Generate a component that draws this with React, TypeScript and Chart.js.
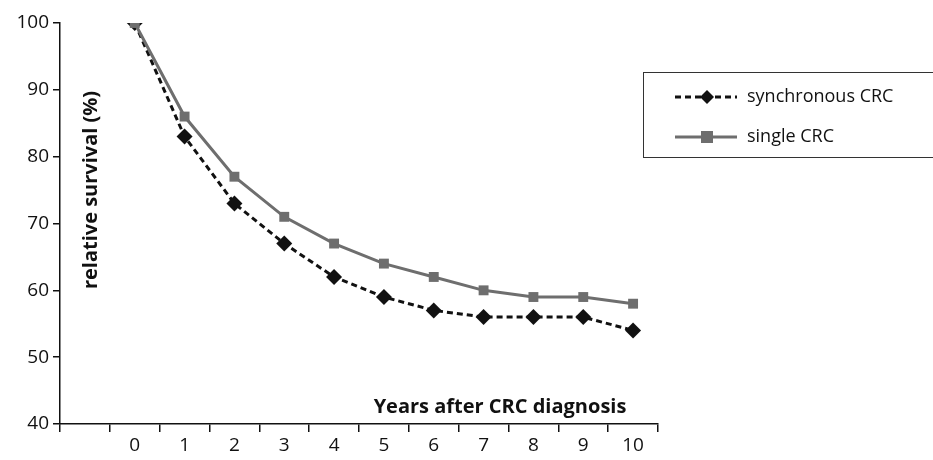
import React, { useEffect, useRef } from "react";
import { Chart, registerables } from "chart.js";

Chart.register(...registerables);

const categories = ["", "0", "1", "2", "3", "4", "5", "6", "7", "8", "9", "10"];
const synchronousCRC = [null, 100, 83, 73, 67, 62, 59, 57, 56, 56, 56, 54];
const singleCRC = [null, 100, 86, 77, 71, 67, 64, 62, 60, 59, 59, 58];
const yTicks = [40, 50, 60, 70, 80, 90, 100];
const seriesNames = ["synchronous CRC", "single CRC"];
const xTitle = "Years after CRC diagnosis";
const yTitle = "relative survival (%)";

const FONT = "'Open Sans', 'DejaVu Sans', sans-serif";

const overlayPlugin = {
  id: "overlay",
  afterDraw(chart: any) {
    const ctx = chart.ctx;
    const area = chart.chartArea;
    ctx.save();
    // axis titles
    ctx.fillStyle = "#111";
    ctx.font = `bold 20px ${FONT}`;
    ctx.textAlign = "center";
    ctx.textBaseline = "middle";
    ctx.fillText(xTitle, 500, area.bottom - 17);
    ctx.save();
    ctx.translate(area.left + 31, 190);
    ctx.rotate(-Math.PI / 2);
    ctx.fillText(yTitle, 0, 0);
    ctx.restore();

    // legend box
    const bx = 643, by = 72, bw = 300, bh = 85;
    ctx.strokeStyle = "#333";
    ctx.lineWidth = 1;
    ctx.strokeRect(bx + 0.5, by + 0.5, bw, bh);

    const rows = [
      { y: 97, color: "#111", dash: [6, 4], marker: "diamond" },
      { y: 137, color: "#6e6e6e", dash: [], marker: "square" },
    ];
    rows.forEach((r, i) => {
      ctx.strokeStyle = r.color;
      ctx.lineWidth = 3;
      ctx.setLineDash(r.dash);
      ctx.beginPath();
      ctx.moveTo(675, r.y);
      ctx.lineTo(737, r.y);
      ctx.stroke();
      ctx.setLineDash([]);
      ctx.fillStyle = r.color;
      ctx.beginPath();
      if (r.marker === "diamond") {
        ctx.moveTo(707, r.y - 7);
        ctx.lineTo(714, r.y);
        ctx.lineTo(707, r.y + 7);
        ctx.lineTo(700, r.y);
        ctx.closePath();
      } else {
        ctx.rect(701, r.y - 6, 12, 12);
      }
      ctx.fill();
      ctx.fillStyle = "#111";
      ctx.font = `18px ${FONT}`;
      ctx.textAlign = "left";
      ctx.textBaseline = "middle";
      ctx.fillText(seriesNames[i], 747, r.y);
    });
    ctx.restore();
  },
};

export default function App() {
  const ref = useRef<HTMLCanvasElement | null>(null);
  useEffect(() => {
    document.body.style.margin = "0";
    const chart = new Chart(ref.current as HTMLCanvasElement, {
      type: "line",
      data: {
        labels: categories,
        datasets: [
          {
            label: seriesNames[1],
            data: singleCRC,
            borderColor: "#6e6e6e",
            backgroundColor: "#6e6e6e",
            borderWidth: 3,
            pointStyle: "rect",
            pointRadius: 7,
            pointBorderWidth: 0,
            tension: 0,
          },
          {
            label: seriesNames[0],
            data: synchronousCRC,
            borderColor: "#111",
            backgroundColor: "#111",
            borderWidth: 3,
            borderDash: [6, 4],
            pointStyle: "rectRot",
            pointRadius: 8,
            pointBorderWidth: 0,
            tension: 0,
          },
        ],
      },
      options: {
        animation: false,
        responsive: false,
        layout: { padding: { top: 23, right: 275, left: 0, bottom: 0 } },
        plugins: { legend: { display: false }, tooltip: { enabled: false } },
        scales: {
          x: {
            type: "category",
            offset: true,
            grid: { offset: true, drawOnChartArea: false, tickLength: 8, color: "#111", lineWidth: 1.5 },
            border: { color: "#111", width: 1.5 },
            ticks: { color: "#111", font: { family: FONT, size: 19 }, padding: 2, autoSkip: false, maxRotation: 0 },
            afterFit(s: any) { s.height = 36; },
          },
          y: {
            min: 40,
            max: 100,
            afterBuildTicks(s: any) { s.ticks = yTicks.map((v) => ({ value: v })); },
            grid: { drawOnChartArea: false, tickLength: 7, color: "#111", lineWidth: 1.5 },
            border: { color: "#111", width: 1.5 },
            ticks: { color: "#111", font: { family: FONT, size: 19 }, padding: 4 },
            afterFit(s: any) { s.width = 60; },
          },
        },
      },
      plugins: [overlayPlugin],
    });
    return () => chart.destroy();
  }, []);
  return (
    <div style={{ width: 933, height: 460 }}>
      <canvas ref={ref} width={933} height={460} />
    </div>
  );
}
